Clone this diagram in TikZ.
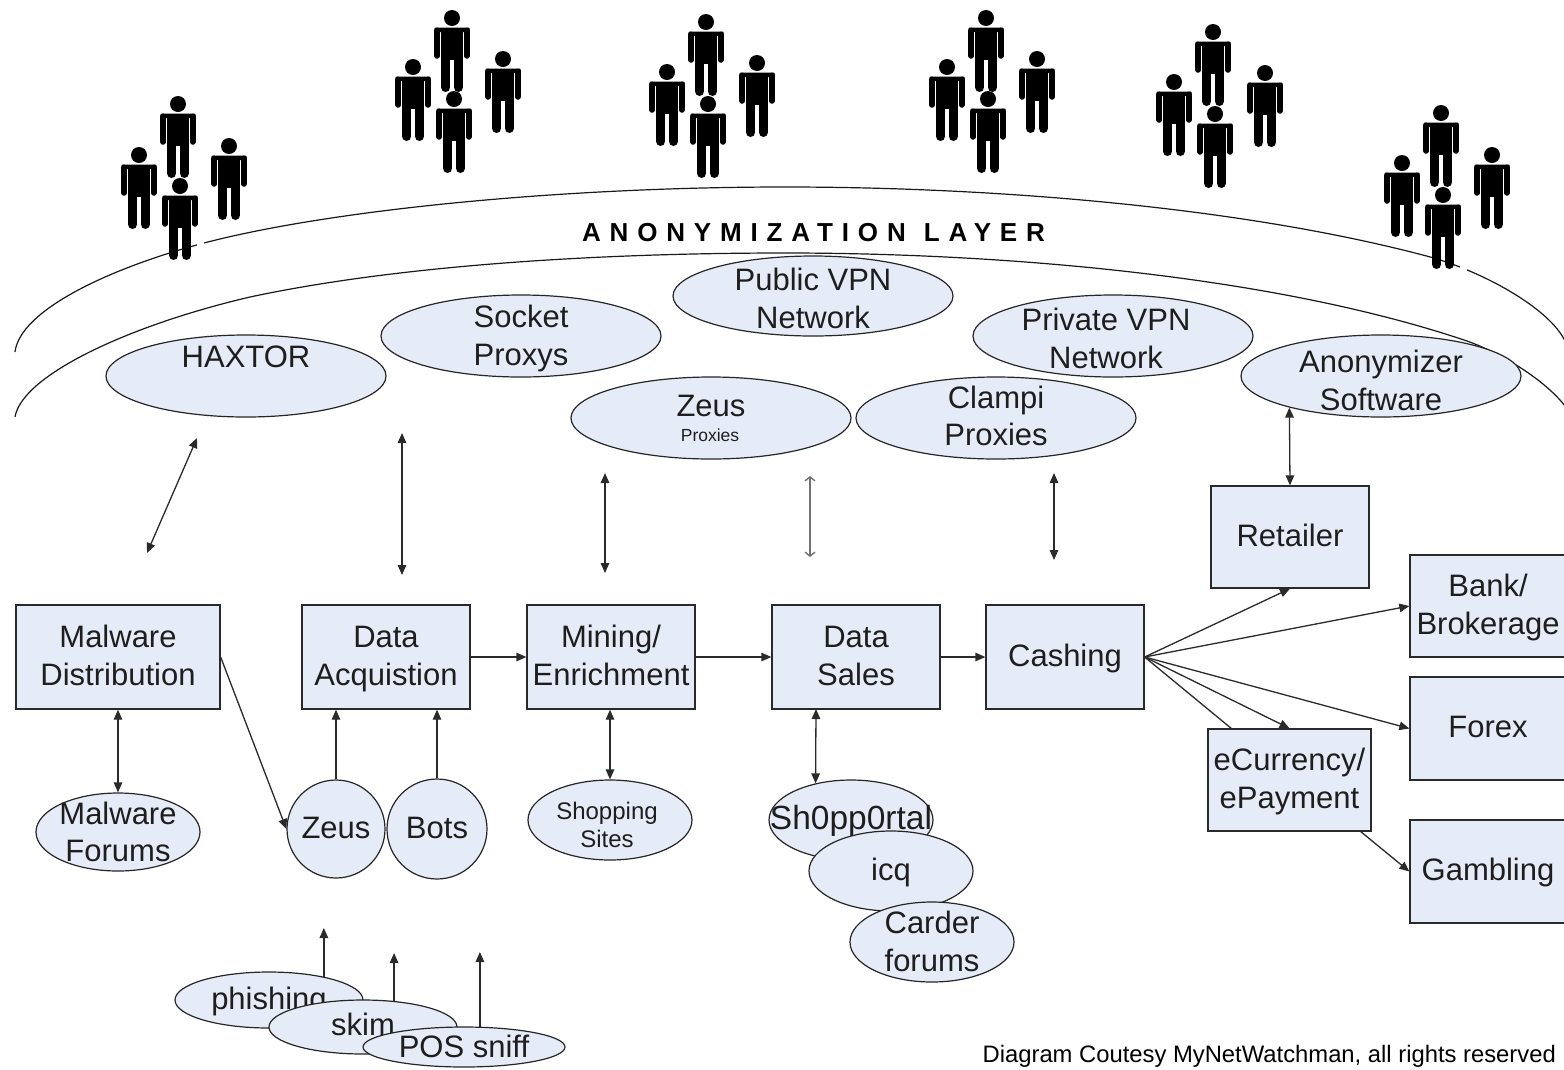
\documentclass[tikz,border=0pt]{standalone}
\usepackage{fontspec}
\setmainfont{Liberation Sans}
\usetikzlibrary{arrows.meta,shapes.geometric}
\definecolor{fillb}{HTML}{E6ECF7}
\definecolor{linec}{HTML}{2A2A2A}
\definecolor{textc}{HTML}{1E1E1E}
\newfontfamily\spaced[LetterSpace=34]{Liberation Sans}
\newcommand{\two}[2]{\rule{0pt}{29pt}#1\\#2\rule[-10.5pt]{0pt}{10.5pt}}
\newcommand{\one}[1]{\rule[-10.5pt]{0pt}{39.5pt}#1}
\tikzset{
  x=1pt,y=-1pt,
  tipa/.tip={Triangle[length=10pt,width=8.5pt]},
  tipo/.tip={Straight Barb[length=4pt,width=10pt]},
  bigtxt/.style={font=\fontsize{31}{37.5}\selectfont,text=textc,align=center,inner sep=0pt},
  boxn/.style={draw=linec,fill=fillb,line width=1.3pt,rectangle,inner sep=0pt,bigtxt},
  elln/.style={draw=black!85,fill=fillb,line width=1.2pt,ellipse,inner sep=0pt},
  circn/.style={draw=black!85,fill=fillb,line width=1.2pt,circle,inner sep=0pt},
  conn/.style={draw=linec,line width=1.3pt,-tipa},
  both/.style={draw=linec,line width=1.3pt,tipa-tipa},
  thinboth/.style={draw=black!55,line width=1.4pt,tipo-tipo},
  plain/.style={draw=linec,line width=1.3pt},
  arcn/.style={draw=black!90,line width=1.2pt},
  person/.pic={
    \fill[black] (0,0) circle [radius=8];
    \fill[black,rounded corners=1pt] (-17.5,9.5) rectangle (17.5,14);
    \fill[black] (-11,10) rectangle (11,42);
    \draw[black,line width=5.5pt,line cap=round] (-14.8,12.3) -- (-14.8,38);
    \draw[black,line width=5.5pt,line cap=round] (14.8,12.3) -- (14.8,38);
    \draw[black,line width=9.4pt,line cap=round] (-6.3,40) -- (-6.3,69.3);
    \draw[black,line width=9.4pt,line cap=round] (6.3,40) -- (6.3,69.3);
  }
}
\newcommand{\ellnode}[7]{% name,x,y,rx,ry,text y,text
  \node[elln,minimum width=#4*2pt,minimum height=#5*2pt] (#1) at (#2,#3) {};
  \node[bigtxt] (#1-t) at (#2,#6) {#7};
}
\newcommand{\crowd}[8]{%
  \pic at (#1,#2) {person};
  \pic at (#3,#4) {person};
  \pic at (#5,#6) {person};
  \pic at (#7,#8) {person};
}
\begin{document}
\begin{tikzpicture}
\useasboundingbox (0,0) rectangle (1564,1069);
\fill[white] (0,0) rectangle (1564,1069);

% anonymization layer
\draw[arcn] (15,352) .. controls (20,310) and (110,268) .. (204,243)
  .. controls (330,210) and (560,187) .. (785,187)
  .. controls (1000,187) and (1250,208) .. (1434,258)
  .. controls (1490,275) and (1550,310) .. (1565,341);
\draw[arcn] (15,417) .. controls (22,375) and (130,325) .. (250,297)
  .. controls (400,265) and (600,253) .. (785,253)
  .. controls (1000,253) and (1270,275) .. (1464,340)
  .. controls (1500,352) and (1545,380) .. (1565,406);
\fill[white] (197,238) rectangle (203.5,250);
\fill[white] (1460,260) rectangle (1466.5,274);
\node[font=\spaced\bfseries\fontsize{26}{30}\selectfont,text=black,inner sep=0pt] (layer) at (813.5,233) {ANONYMIZATION\hspace{18pt}LAYER};

% people
\crowd{178}{104}{139}{155}{229}{146}{180}{186}
\crowd{452}{18}{413}{67}{503}{59}{454}{99}
\crowd{706}{22}{667}{72}{757}{63}{708}{104}
\crowd{986}{18}{947}{67}{1037}{59}{988}{99}
\crowd{1213}{32}{1174}{82}{1265}{73}{1215}{114}
\crowd{1441}{113}{1402}{163}{1492}{155}{1443}{195}

% layer ellipses
\ellnode{public}{813}{296}{140}{40}{300}{\two{Public VPN}{Network}}
\ellnode{socket}{521}{336}{140}{41}{337}{\two{Socket}{Proxys}}
\node[elln,minimum width=280pt,minimum height=82pt] (private) at (1113,336) {};
\node[bigtxt] (private-t) at (1106,340) {\two{Private VPN}{Network}};
\ellnode{haxtor}{246}{376}{140}{41}{358}{\one{HAXTOR}}
\ellnode{anon}{1381}{376}{140}{41}{382}{\two{Anonymizer}{Software}}
\node[elln,minimum width=280pt,minimum height=82pt] (zeusp) at (711,418) {};
\node[bigtxt] (zeusp-t) at (711,407) {\one{Zeus}};
\node[bigtxt,font=\fontsize{17.5}{20}\selectfont] (zeusp-s) at (710,435) {Proxies};
\ellnode{clampi}{996}{418}{140}{41}{417.5}{\two{Clampi}{Proxies}}

% free ends of the long double arrows
\coordinate (h1) at (197,438); \coordinate (h2) at (147,553);
\coordinate (d1) at (402,433); \coordinate (d2) at (402,575);
\coordinate (m1) at (605,473); \coordinate (m2) at (605,573);
\coordinate (s1) at (810,476); \coordinate (s2) at (810,557);
\coordinate (c1) at (1054,473); \coordinate (c2) at (1054,560);
\draw[both] (h1) -- (h2);
\draw[both] (d1) -- (d2);
\draw[both] (m1) -- (m2);
\draw[thinboth] (s1) -- (s2);
\draw[both] (c1) -- (c2);

% process boxes
\node[boxn,minimum width=204pt,minimum height=104pt] (maldist) at (118,657) {\two{Malware}{Distribution}};
\node[boxn,minimum width=168pt,minimum height=104pt] (dataacq) at (386,657) {\two{Data}{Acquistion}};
\node[boxn,minimum width=168pt,minimum height=104pt] (mining) at (611,657) {\two{Mining/}{Enrichment}};
\node[boxn,minimum width=168pt,minimum height=104pt] (sales) at (856,657) {\two{Data}{Sales}};
\node[boxn,minimum width=158pt,minimum height=104pt] (cashing) at (1065,657) {\one{Cashing}};
\node[boxn,minimum width=158pt,minimum height=102pt] (retailer) at (1290,537) {\one{Retailer}};
\node[boxn,minimum width=156pt,minimum height=102pt] (bank) at (1488,606) {\two{Bank/}{Brokerage}};
\node[boxn,minimum width=156pt,minimum height=103pt] (forex) at (1488,728.5) {\one{Forex}};
\node[boxn,minimum width=156pt,minimum height=103pt] (gambling) at (1488,871.5) {\one{Gambling}};
\node[boxn,minimum width=163pt,minimum height=102pt] (ecur) at (1289.5,780) {\two{eCurrency/}{ePayment}};

\coordinate (e1) at (1360,831);
\coordinate (e2) at (1232,729);
\draw[both] (anon.199) -- (retailer.north);
\draw[conn] (dataacq.east) -- (mining.west);
\draw[conn] (mining.east) -- (sales.west);
\draw[conn] (sales.east) -- (cashing.west);
\draw[conn] (cashing.east) -- (retailer.south);
\draw[conn] (cashing.east) -- (bank.west);
\draw[conn] (cashing.east) -- (forex.west);
\draw[conn] (cashing.east) -- (ecur.north);
\draw[plain] (cashing.east) -- (e2);
\draw[conn] (e1) -- (gambling.west);

% lower nodes
\ellnode{malf}{118}{832}{82}{39}{833.5}{\two{Malware}{Forums}}
\node[elln,minimum width=164pt,minimum height=80pt] (shop) at (610,820) {};
\node[bigtxt,font=\fontsize{24}{28}\selectfont] (shop-t) at (607,825) {Shopping\\Sites};
\node[elln,minimum width=164pt,minimum height=80pt] (shp) at (851,820) {};
\node[bigtxt,font=\fontsize{33.5}{40}\selectfont] (shp-t) at (851,820) {\one{Sh0pp0rtal}};
\ellnode{icq}{891}{871}{82}{40}{871}{\one{icq}}
\ellnode{carder}{932}{942}{82}{40}{943}{\two{Carder}{forums}}
\node[circn,minimum size=98pt,bigtxt] (zeus) at (336,829) {\one{Zeus}};
\node[circn,minimum size=100pt,bigtxt] (bots) at (437,829) {\one{Bots}};

\coordinate (sd) at (816,709);
\draw[both] (maldist.south) -- (malf.north);
\draw[both] (mining.south -| shop.center) -- (shop.north);
\draw[both] (sd) -- (shp.134);
\draw[conn] (maldist.east) -- (zeus.west);
\draw[conn] (zeus.north) -- (zeus.north |- dataacq.south);
\draw[conn] (bots.north) -- (bots.north |- dataacq.south);

\coordinate (ph) at (322,928);
\coordinate (sk) at (393,953);
\coordinate (po) at (479,952);
\ellnode{phish}{269}{1000}{94}{28}{1000}{\one{phishing}}
\ellnode{skim}{363}{1027}{94}{27}{1026}{\one{skim}}
\ellnode{pos}{464}{1047}{101}{20}{1048}{\one{POS sniff}}
\draw[conn] (phish.23.5) -- (phish.23.5 |- ph);
\draw[conn] (skim.40.5) -- (skim.40.5 |- sk);
\draw[conn] (pos.52.9) -- (pos.52.9 |- po);

\node[font=\fontsize{23.8}{28}\selectfont,text=black,inner sep=0pt,anchor=east] (credit) at (1556,1056) {Diagram Coutesy MyNetWatchman, all rights reserved};
\end{tikzpicture}
\end{document}
